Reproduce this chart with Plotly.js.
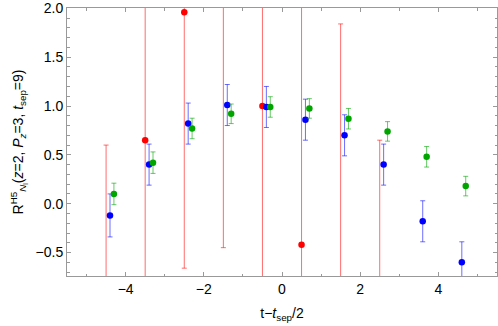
<!DOCTYPE html>
<html>
<head>
<meta charset="utf-8">
<script src="https://cdn.plot.ly/plotly-3.0.1.min.js"></script>
<style>
  html, body { margin: 0; padding: 0; background: white; }
  #plot { width: 498px; height: 326px; }
</style>
</head>
<body>
<div id="plot"></div>
<script>
// insertion times, t - tsep/2
var tRed = [-4.5, -3.5, -2.5, -1.5, -0.5, 0.5, 1.5, 2.5];
var tBlue = [-4.4, -3.4, -2.4, -1.4, -0.4, 0.6, 1.6, 2.6, 3.6, 4.6];
var tGreen = [-4.3, -3.3, -2.3, -1.3, -0.3, 0.7, 1.7, 2.7, 3.7, 4.7];

// red: several centres are off the plotted range
var redVals = [-1.2, 0.65, 1.96, 2.6, 1.0, -0.42, -1.5, -1.0];
var redErrs = [1.8, 4.0, 2.62, 3.05, 4.0, 4.0, 3.34, 1.65];

var blueVals = [-0.12, 0.40, 0.82, 1.01, 0.99, 0.86, 0.70, 0.40, -0.18, -0.60];
var blueErrs = [0.22, 0.21, 0.21, 0.21, 0.21, 0.21, 0.21, 0.21, 0.21, 0.21];

var greenVals = [0.10, 0.42, 0.77, 0.92, 0.99, 0.975, 0.87, 0.74, 0.48, 0.18];
var greenErrs = [0.11, 0.11, 0.105, 0.10, 0.105, 0.10, 0.105, 0.10, 0.105, 0.10];

function series(x, y, e, col, barCol) {
  return {
    x: x, y: y, type: "scatter", mode: "markers",
    marker: { color: col, size: 6.5 },
    error_y: { type: "data", array: e, visible: true, color: barCol, thickness: 1, width: 2.5 },
    showlegend: false, hoverinfo: "none"
  };
}

var traces = [
  series(tRed, redVals, redErrs, "rgb(255,0,0)", "rgba(255,30,30,0.65)"),
  series(tBlue, blueVals, blueErrs, "rgb(0,0,255)", "rgba(30,30,255,0.65)"),
  series(tGreen, greenVals, greenErrs, "rgb(0,165,0)", "rgba(0,165,0,0.6)")
];

var axisCommon = {
  showline: true, linecolor: "#999", linewidth: 1,
  mirror: "allticks", ticks: "inside", tickcolor: "#999", ticklen: 4,
  showgrid: false, zeroline: false,
  tickfont: { family: "Liberation Sans, Arial, sans-serif", size: 14, color: "black" }
};

var layout = {
  width: 498, height: 326,
  margin: { l: 67, r: 1, t: 8, b: 50 },
  paper_bgcolor: "white", plot_bgcolor: "white",
  font: { family: "Liberation Sans, Arial, sans-serif", size: 14, color: "black" },
  xaxis: Object.assign({}, axisCommon, {
    range: [-5.5, 5.5],
    tickvals: [-4, -2, 0, 2, 4], ticktext: ["\u22124", "\u22122", "0", "2", "4"],
    minor: { tick0: 0, dtick: 1, ticklen: 2.5, tickcolor: "#999", ticks: "inside" },
    title: { text: "t\u2212<i>t</i><sub>sep</sub>/2", standoff: 12, font: { size: 14 } }
  }),
  yaxis: Object.assign({}, axisCommon, {
    range: [-0.74, 2.003],
    tickvals: [-0.5, 0, 0.5, 1.0, 1.5, 2.0],
    ticktext: ["\u22120.5", "0.0", "0.5", "1.0", "1.5", "2.0"],
    minor: { tick0: 0, dtick: 0.1, ticklen: 2.5, tickcolor: "#999", ticks: "inside" },
    title: { text: "R<sup>H5</sup><sub><i>N</i><sub>l</sub></sub>(<i>z</i>=2, <i>P</i><sub><i>z</i></sub>=3, <i>t</i><sub>sep</sub>=9)", standoff: 8, font: { size: 14 } }
  })
};

Plotly.newPlot("plot", traces, layout, { displayModeBar: false, staticPlot: true });
</script>
</body>
</html>
